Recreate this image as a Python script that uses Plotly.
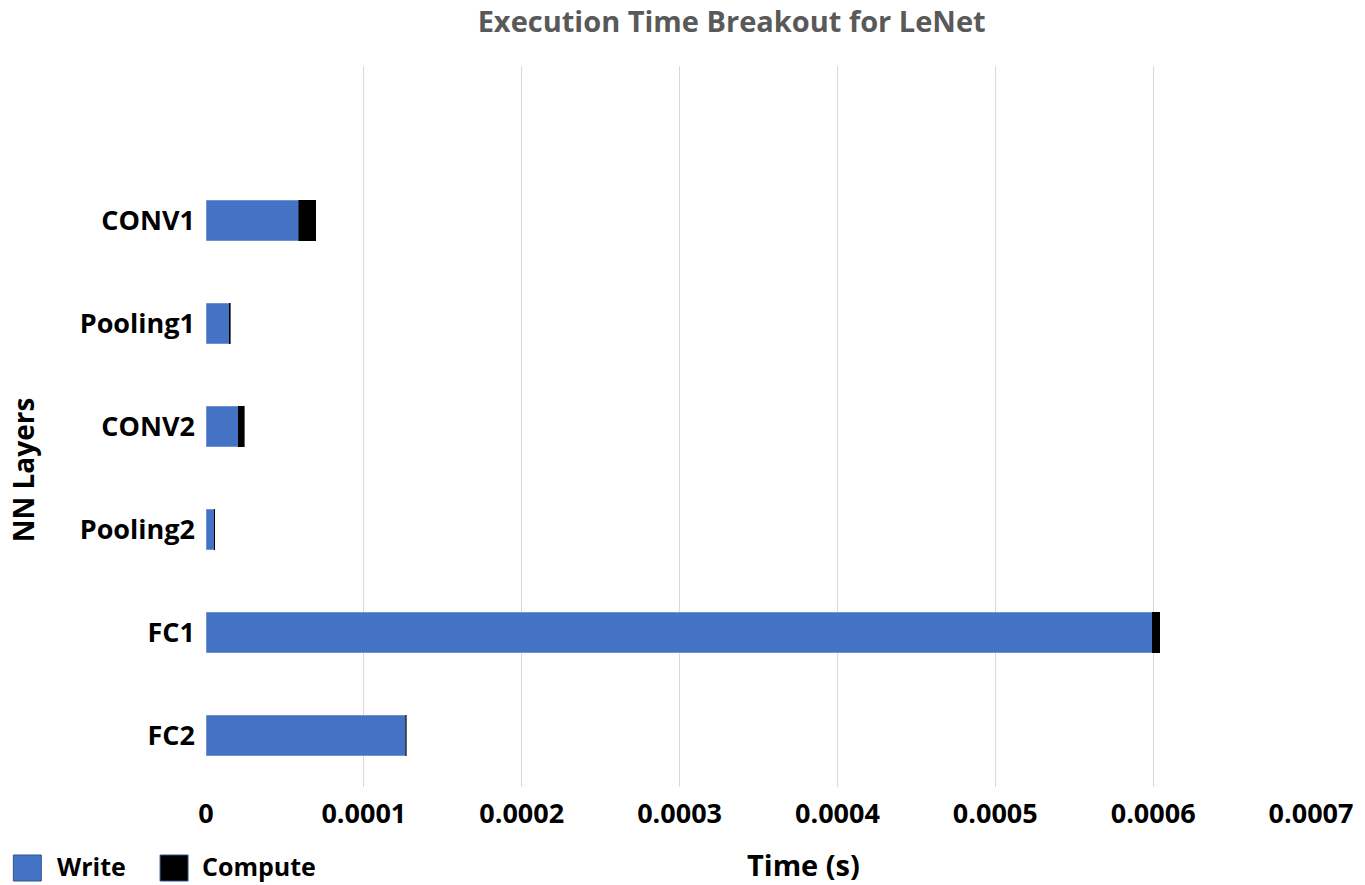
import plotly.graph_objects as go

# Layers listed bottom-to-top so CONV1 sits at the top of the chart
layers = ["FC2", "FC1", "Pooling2", "CONV2", "Pooling1", "CONV1"]
write_time = [1.264e-4, 5.994e-4, 5.1e-6, 2.04e-5, 1.47e-5, 5.86e-5]
compute_time = [5e-7, 4.9e-6, 5e-7, 3.8e-6, 6e-7, 1.09e-5]
x_ticks = [0, 0.0001, 0.0002, 0.0003, 0.0004, 0.0005, 0.0006, 0.0007]
x_tick_text = ["0", "0.0001", "0.0002", "0.0003", "0.0004", "0.0005", "0.0006", "0.0007"]

BLUE = "#4472C4"
FONT = "Open Sans"

fig = go.Figure()
fig.add_trace(go.Bar(
    y=layers, x=write_time, orientation="h", name="Write",
    marker=dict(color=BLUE, line=dict(color="#8FAADC", width=0.6)),
    showlegend=False,
))
fig.add_trace(go.Bar(
    y=layers, x=compute_time, orientation="h", name="Compute",
    marker=dict(color="#000000", line=dict(color="#000000", width=0.6)),
    showlegend=False,
))

fig.update_layout(
    barmode="stack",
    bargap=0.61,
    width=1365, height=885,
    margin=dict(l=206, r=52, t=66, b=98),
    paper_bgcolor="white", plot_bgcolor="white",
    title=dict(
        text="<b>Execution Time Breakout for LeNet</b>",
        font=dict(family=FONT, size=29, color="#595959"),
        x=0.536, xanchor="center", y=0.975, yanchor="middle",
    ),
    xaxis=dict(
        range=[0, 0.0007], tickvals=x_ticks, ticktext=x_tick_text,
        showgrid=True, gridcolor="#D9D9D9", gridwidth=1,
        zeroline=False, showline=False, ticks="",
        ticklabelstandoff=8,
        tickfont=dict(family=FONT, size=27, color="#000000", weight="bold"),
    ),
    yaxis=dict(
        type="category", categoryorder="array", categoryarray=layers,
        range=[-0.5, 6.5], showgrid=False, zeroline=False, showline=False,
        ticks="", ticklabelstandoff=10,
        tickfont=dict(family=FONT, size=27, color="#000000", weight="bold"),
    ),
)

plot_w = 1365 - 206 - 52
plot_h = 885 - 66 - 98

# Axis titles
fig.add_annotation(
    text="<b>Time (s)</b>", xref="paper", yref="paper", x=0.541,
    y=(787 - 864) / plot_h,
    xanchor="center", yanchor="middle", showarrow=False,
    font=dict(family=FONT, size=29, color="#000000"),
)
fig.add_annotation(
    text="<b>NN Layers</b>", xref="paper", yref="paper", x=-0.166, y=0.44,
    xanchor="center", yanchor="middle", showarrow=False, textangle=-90,
    font=dict(family=FONT, size=28, color="#000000"),
)

# Legend drawn as swatches with labels along the bottom-left corner
legend_items = [("Write", BLUE, 13, 55), ("Compute", "#000000", 160, 200)]
for label, color, sx, tx in legend_items:
    x0 = (sx - 206) / plot_w
    x1 = (sx + 28 - 206) / plot_w
    y0 = (787 - 881) / plot_h
    y1 = (787 - 855) / plot_h
    fig.add_shape(type="rect", xref="paper", yref="paper", x0=x0, x1=x1, y0=y0, y1=y1,
                  fillcolor=color, line=dict(color="#2F5597", width=1))
    fig.add_annotation(
        text=f"<b>{label}</b>", xref="paper", yref="paper",
        x=(tx - 206) / plot_w, y=(787 - 866) / plot_h,
        xanchor="left", yanchor="middle", showarrow=False,
        font=dict(family=FONT, size=25, color="#000000"),
    )

fig.write_html("out.html")
